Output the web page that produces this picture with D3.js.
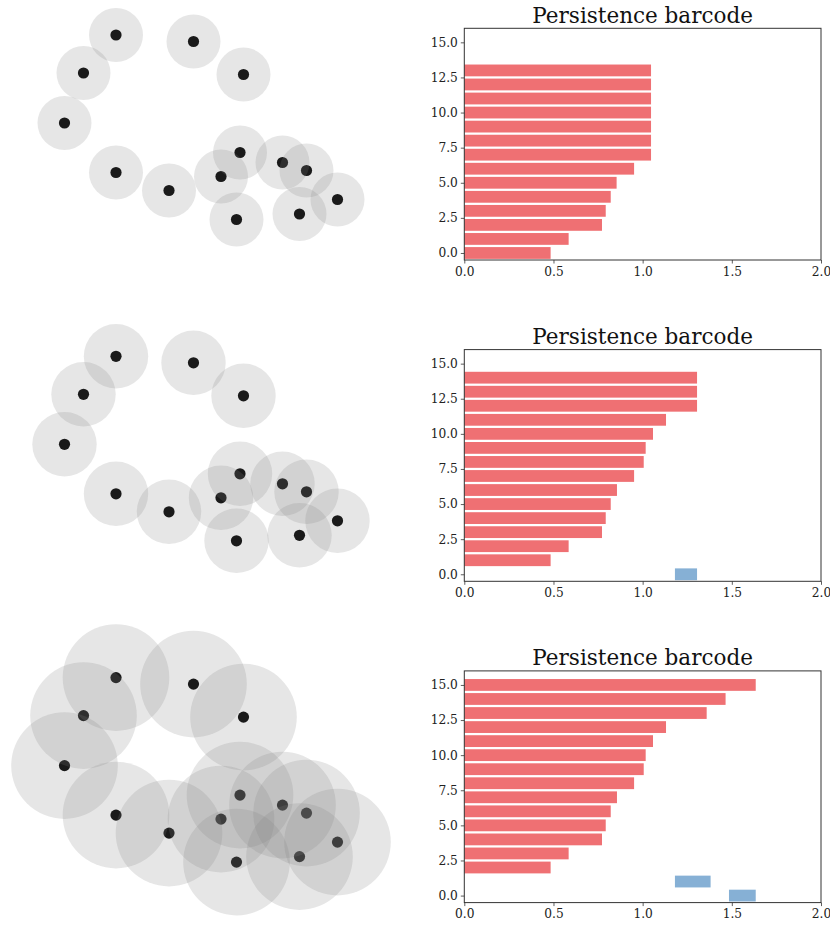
<!DOCTYPE html>
<html>
<head>
<meta charset="utf-8">
<script src="https://cdn.jsdelivr.net/npm/d3@7"></script>
<style>
  body { margin: 0; background: #fff; }
  svg { display: block; }
</style>
</head>
<body>
<svg id="vis"></svg>
<script>
// point cloud (same points in all three rows)
var pointX = [1.52, 3.07, 0.87, 4.07, 0.49, 4.00, 1.52, 4.85, 5.33, 3.62, 2.58, 5.95, 5.19, 3.93];
var pointY = [4.30, 4.17, 3.54, 3.51, 2.54, 1.95, 1.55, 1.75, 1.59, 1.47, 1.19, 1.01, 0.72, 0.61];

// ball radius for each row
var ballRadius = [0.54, 0.644, 1.066];

// H0 bars (red), end values, one list per row (start at 0)
var h0Ends = [
  [0.484, 0.585, 0.772, 0.793, 0.821, 0.854, 0.952, 1.047, 1.047, 1.047, 1.047, 1.047, 1.047, 1.047],
  [0.484, 0.585, 0.772, 0.793, 0.821, 0.856, 0.952, 1.006, 1.017, 1.058, 1.131, 1.305, 1.305, 1.305],
  [0.484, 0.585, 0.772, 0.793, 0.821, 0.856, 0.952, 1.006, 1.017, 1.058, 1.131, 1.359, 1.465, 1.634]
];
// H1 bars (blue), [start, end], bottom first
var h1Bars = [
  [],
  [[1.181, 1.305]],
  [[1.484, 1.634], [1.181, 1.381]]
];

var xTicks = [0, 0.5, 1.0, 1.5, 2.0];
var yTicks = [0, 2.5, 5, 7.5, 10, 12.5, 15];

var width = 830;
var height = 929;
var rowStep = 321.3;
var redColor = "#ef7073";
var blueColor = "#86b0d5";
var fontFam = "'DejaVu Serif', serif";

var svg = d3.select("#vis").attr("width", width).attr("height", height);

for (var row = 0; row < 3; row++) {
    drawRow(row);
}

function drawRow(row) {
    var oy = row * rowStep;
    var g = svg.append("g").attr("transform", "translate(0," + oy + ")");

    //scatter with balls
    var sx = d3.scaleLinear().domain([0, 8]).range([40, 440]);
    var sy = d3.scaleLinear().domain([0, 5]).range([250, 0]);
    var r = ballRadius[row];

    g.append("g").selectAll("circle")
        .data(pointX)
        .enter()
        .append("circle")
        .attr("cx", function(d){ return sx(d); })
        .attr("cy", function(d, i){ return sy(pointY[i]); })
        .attr("r", 5.6)
        .attr("fill", "#000");

    g.append("g").selectAll("circle")
        .data(pointX)
        .enter()
        .append("circle")
        .attr("cx", function(d){ return sx(d); })
        .attr("cy", function(d, i){ return sy(pointY[i]); })
        .attr("r", sx(r) - sx(0))
        .attr("fill", "#808080")
        .attr("fill-opacity", 0.2);

    //barcode
    var left = 464.3, right = 821, top = 28.3, bottom = 260;
    var x = d3.scaleLinear().domain([0, 2]).range([left, right]);
    var y = d3.scaleLinear().domain([-0.5, 16]).range([bottom, top]);
    var barH = 0.84;
    var nBlue = h1Bars[row].length;

    var ax = g.append("g");

    ax.append("g").selectAll("rect")
        .data(h0Ends[row])
        .enter()
        .append("rect")
        .attr("x", x(0))
        .attr("width", function(d){ return x(d) - x(0); })
        .attr("y", function(d, i){ return y(i + nBlue + barH / 2); })
        .attr("height", y(0) - y(barH))
        .attr("fill", redColor);

    ax.append("g").selectAll("rect")
        .data(h1Bars[row])
        .enter()
        .append("rect")
        .attr("x", function(d){ return x(d[0]); })
        .attr("width", function(d){ return x(d[1]) - x(d[0]); })
        .attr("y", function(d, i){ return y(i + barH / 2); })
        .attr("height", y(0) - y(barH))
        .attr("fill", blueColor);

    var xAxis = ax.append("g")
        .attr("transform", "translate(0," + bottom + ")")
        .call(d3.axisBottom(x).tickValues(xTicks).tickFormat(d3.format(".1f")).tickSizeOuter(0).tickSize(3.5).tickPadding(3.5));
    var yAxis = ax.append("g")
        .attr("transform", "translate(" + left + ",0)")
        .call(d3.axisLeft(y).tickValues(yTicks).tickFormat(d3.format(".1f")).tickSizeOuter(0).tickSize(3.5).tickPadding(3));

    [xAxis, yAxis].forEach(function(a){
        a.select(".domain").remove();
        a.selectAll("line").attr("stroke", "#333").attr("stroke-width", 0.8);
        a.selectAll("text").attr("fill", "#222").style("font-family", fontFam).style("font-size", "12.2px");
    });

    // frame
    ax.append("rect")
        .attr("x", left).attr("y", top)
        .attr("width", right - left).attr("height", bottom - top)
        .attr("fill", "none")
        .attr("stroke", "#333")
        .attr("stroke-width", 1);

    ax.append("text")
        .attr("x", (left + right) / 2)
        .attr("y", top - 5.5)
        .attr("text-anchor", "middle")
        .style("font-family", fontFam)
        .style("font-size", "21.5px")
        .attr("fill", "#111")
        .text("Persistence barcode");
}
</script>
</body>
</html>
